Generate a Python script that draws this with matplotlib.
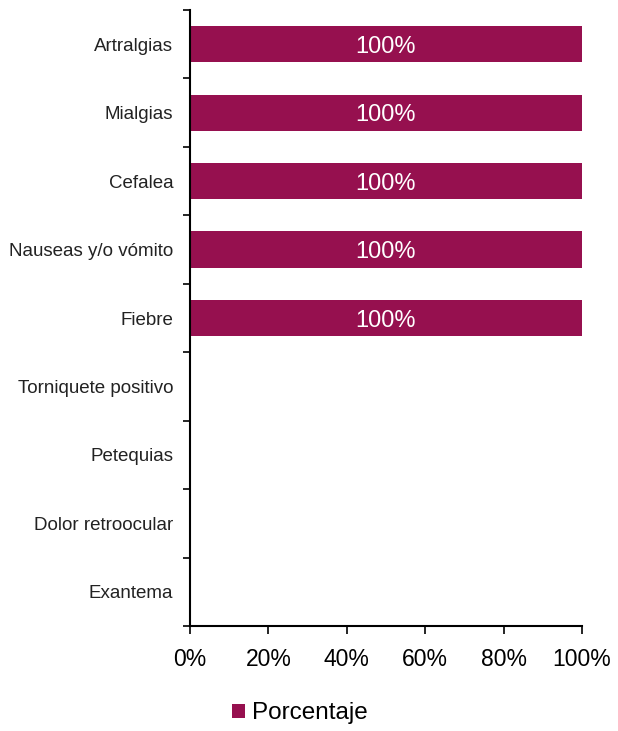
import matplotlib.pyplot as plt
from matplotlib.patches import Patch
import numpy as np

plt.rcParams['font.family'] = ['Liberation Sans', 'DejaVu Sans']

# data (top to bottom)
categories = ['Artralgias', 'Mialgias', 'Cefalea', 'Nauseas y/o vómito', 'Fiebre',
              'Torniquete positivo', 'Petequias', 'Dolor retroocular', 'Exantema']
porcentaje = [100, 100, 100, 100, 100, 0, 0, 0, 0]
x_ticks = [0, 20, 40, 60, 80, 100]

color = '#96104F'

fig = plt.figure(figsize=(6.18, 7.31), dpi=100)
ax = fig.add_axes([0.3074, 0.1436, 0.6343, 0.8427])

n = len(categories)
ypos = np.arange(n)
ax.barh(ypos, porcentaje, height=0.53, color=color)
for y, v in zip(ypos, porcentaje):
    if v > 0:
        ax.text(v / 2, y, f'{v}%', color='white', fontsize=17, ha='center', va='center_baseline')

ax.set_xlim(0, 100)
ax.set_ylim(n - 0.5, -0.5)
ax.set_xticks(x_ticks)
ax.set_xticklabels([f'{t}%' for t in x_ticks], fontsize=16.5)
ax.tick_params(axis='x', length=6, width=1.2, pad=10, color='black')

# boundary ticks as major, labels on minor
ax.set_yticks(np.arange(-0.5, n, 1.0))
ax.set_yticklabels([])
ax.tick_params(axis='y', which='major', length=5, width=1.2)
ax.set_yticks(ypos, minor=True)
ax.set_yticklabels(categories, minor=True, fontsize=13.5, color='#222222')
ax.tick_params(axis='y', which='minor', length=0, pad=12)

for s in ['top', 'right']:
    ax.spines[s].set_visible(False)
for s in ['left', 'bottom']:
    ax.spines[s].set_linewidth(1.5)

handle = Patch(facecolor=color, label='Porcentaje')
fig.legend(handles=[handle], loc='center', bbox_to_anchor=(0.485, 0.024), frameon=False,
           fontsize=17.5, handlelength=0.55, handleheight=0.55, handletextpad=0.3)

fig.savefig('out.png', dpi=100)
